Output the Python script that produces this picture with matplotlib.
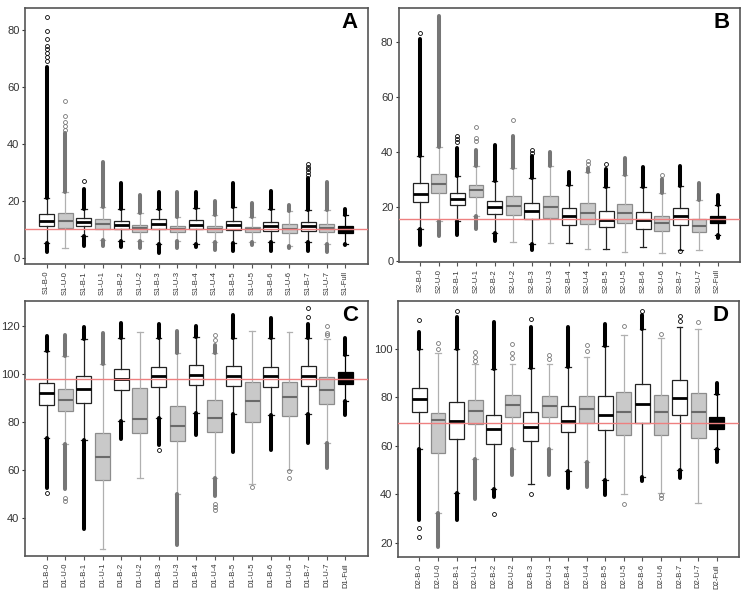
import matplotlib
matplotlib.use('Agg')
import matplotlib.pyplot as plt

plt.rcParams['font.family'] = ['Liberation Sans', 'DejaVu Sans']

# ─────────────────────────────────────────────
# DATA  (q1, median, q3, whisker low, whisker high)
# dense = (bottom of dense low fliers, top of dense high fliers)
# ─────────────────────────────────────────────
s1_labels = ['S1-B-0', 'S1-U-0', 'S1-B-1', 'S1-U-1', 'S1-B-2', 'S1-U-2', 'S1-B-3', 'S1-U-3',
             'S1-B-4', 'S1-U-4', 'S1-B-5', 'S1-U-5', 'S1-B-6', 'S1-U-6', 'S1-B-7', 'S1-U-7', 'S1-Full']
s1_box = [(11.1, 13.0, 15.2, 5.3, 21.1), (10.4, 13.0, 15.8, 3.3, 23.2), (11.2, 12.5, 13.8, 7.8, 17.0),
          (10.1, 11.9, 13.5, 6.2, 17.9), (10.0, 11.5, 12.9, 6.0, 17.0), (9.1, 10.3, 11.5, 6.0, 15.6),
          (10.0, 11.8, 13.5, 5.0, 17.0), (8.9, 10.0, 11.1, 6.0, 14.4), (10.0, 11.6, 13.2, 4.7, 17.5),
          (8.9, 10.1, 11.2, 5.4, 15.0), (9.7, 11.5, 13.0, 5.3, 17.7), (8.9, 10.0, 10.9, 5.4, 14.2),
          (9.5, 11.1, 12.4, 5.4, 17.0), (8.6, 10.2, 11.7, 4.1, 16.5), (9.5, 11.0, 12.4, 5.4, 16.7),
          (8.9, 10.3, 11.7, 5.0, 16.7), (8.8, 10.1, 11.2, 4.8, 15.0)]
s1_dense = [(1.9, 67.0), (None, 43.7), (4.2, 24.0), (4.1, 33.7), (3.6, 26.4), (3.3, 22.0), (1.5, 23.0),
            (3.3, 23.0), (3.8, 23.2), (2.7, 19.9), (2.5, 26.4), (4.5, 19.1), (2.5, 23.5), (3.3, 18.7),
            (2.5, 27.9), (2.1, 26.5), (4.5, 17.1)]
s1_sparse = [[69, 70.5, 72, 73.5, 74.5, 76.7, 79.6, 84.4], [44.9, 46.3, 47.8, 49.8, 55.2], [26.9], [], [], [],
             [], [], [], [], [], [], [], [], [29, 30, 31, 32, 33.1], [], []]
s1_ref = 10.2

s2_labels = [l.replace('S1', 'S2') for l in s1_labels]
s2_box = [(21.6, 24.7, 28.6, 11.8, 38.3), (24.9, 28.3, 31.9, 14.8, 41.9), (20.5, 22.7, 24.9, 14.8, 31.0),
          (23.5, 25.9, 28.0, 16.4, 34.9), (17.4, 19.8, 22.2, 10.3, 29.2), (17.0, 20.1, 23.9, 7.1, 34.0),
          (15.4, 18.5, 21.5, 6.4, 30.4), (16.0, 19.8, 23.7, 6.9, 34.9), (13.4, 16.4, 19.5, 6.7, 28.0),
          (13.6, 17.6, 21.5, 4.6, 32.5), (12.4, 15.2, 18.5, 4.6, 27.1), (14.0, 17.6, 21.0, 3.6, 31.6),
          (12.0, 15.1, 18.1, 5.3, 27.0), (11.1, 13.9, 16.7, 3.0, 24.9), (13.3, 16.5, 19.5, 4.3, 27.5),
          (10.7, 13.0, 15.4, 4.0, 22.5), (13.9, 15.2, 16.7, 9.7, 20.7)]
s2_dense = [(6.1, 81.1), (9.1, 89.4), (9.7, 41.5), (11.8, 40.7), (7.3, 42.3), (None, 45.6), (4.3, 38.5),
            (None, 40.1), (None, 32.6), (None, 34.0), (None, 33.7), (None, 37.7), (None, 34.3),
            (None, 30.0), (None, 34.9), (None, 28.6), (8.5, 24.1)]
s2_sparse = [[83.3], [], [43.5, 44.5, 45.6], [43.8, 45.2, 49.2], [], [51.7], [39.5, 40.5], [], [],
             [35.5, 36.5], [35.5], [], [], [31.6], [3.8], [], []]
s2_ref = 15.3

d1_labels = [l.replace('S1', 'D1') for l in s1_labels]
d1_box = [(87.2, 92.0, 96.3, 73.5, 109.7), (84.4, 89.2, 93.5, 71.0, 107.3), (87.9, 93.8, 98.9, 72.3, 114.6),
          (55.8, 65.4, 75.2, 27.3, 104.1), (93.2, 97.9, 102.0, 80.4, 114.9), (75.2, 81.3, 93.9, 56.5, 117.5),
          (94.5, 98.9, 103.0, 81.8, 114.9), (72.0, 78.3, 86.5, 50.0, 108.7), (95.5, 99.6, 103.5, 83.9, 115.2),
          (75.9, 81.5, 89.3, 56.5, 108.6), (94.9, 99.2, 103.1, 83.2, 114.9), (79.9, 88.6, 96.8, 54.1, 117.7),
          (94.6, 98.9, 102.8, 82.7, 114.9), (82.3, 90.4, 96.8, 60.1, 117.2), (94.9, 99.2, 103.1, 83.4, 114.9),
          (87.5, 93.4, 98.5, 71.3, 114.6), (95.6, 98.2, 100.7, 88.5, 107.9)]
d1_dense = [(52.7, 115.6), (52.0, 116.1), (35.4, 119.3), (None, 117.0), (72.8, 121.0), (None, None),
            (70.3, 120.7), (28.6, 117.9), (74.5, 120.0), (49.2, 112.0), (67.5, 124.5), (None, None),
            (68.5, 123.1), (None, None), (71.3, 120.6), (60.7, None), (83.0, 114.9)]
d1_sparse = [[50.3], [47.0, 48.5], [], [], [], [], [68.2], [], [], [43.5, 44.5, 46.0, 114.0, 116.1], [], [53.0],
             [], [56.5, 59.7], [123.5, 127.3], [116.1, 116.8, 120.0], []]
d1_ref = 98.0

d2_labels = [l.replace('S1', 'D2') for l in s1_labels]
d2_box = [(73.7, 79.1, 83.8, 58.5, 99.6), (57.1, 70.5, 73.3, 32.5, 98.0), (62.7, 70.2, 77.8, 40.7, 99.6),
          (69.1, 74.3, 79.0, 54.5, 93.8), (60.5, 66.7, 72.8, 42.0, 91.5), (71.9, 76.7, 80.8, 58.5, 93.6),
          (62.0, 67.8, 73.9, 44.1, 91.8), (71.7, 76.3, 80.5, 58.5, 93.6), (65.7, 70.2, 76.4, 49.7, 92.4),
          (69.4, 75.0, 80.4, 53.4, 96.6), (66.5, 72.6, 80.5, 45.8, 101.0), (64.6, 73.9, 81.9, 40.3, 105.5),
          (69.5, 77.0, 85.2, 47.2, 108.2), (64.6, 73.7, 80.8, 40.7, 104.5), (72.6, 79.8, 87.2, 49.9, 108.9),
          (63.0, 73.7, 81.5, 36.6, 108.0), (66.9, 69.4, 71.9, 58.6, 81.2)]
d2_dense = [(29.4, 106.9), (18.4, None), (29.4, 112.8), (37.9, None), (38.7, 111.0), (47.9, None),
            (None, 108.9), (47.9, None), (42.4, 108.9), (43.1, None), (39.9, 110.0), (None, None),
            (45.5, 113.7), (None, None), (46.8, None), (None, None), (53.2, 85.6)]
d2_sparse = [[26.3, 22.5, 111.9], [100.0, 102.3], [115.5], [95.0, 96.5, 98.6], [32.1], [95.9, 98.0, 102.0],
             [112.3, 40.1], [95.5, 97.3], [], [99.0, 101.4], [], [109.2, 35.9], [115.5],
             [105.9, 39.6, 38.3], [111.4, 113.4], [111.0], []]
d2_ref = 69.5

# ─────────────────────────────────────────────
# STYLES
# ─────────────────────────────────────────────
STY = {
    'B':    dict(face='#FFFFFF', edge='#222222', med='#000000', whisk='#222222', flier='#000000', mlw=2.0),
    'U':    dict(face='#C9C9C9', edge='#8C8C8C', med='#6A6A6A', whisk='#B0B0B0', flier='#767676', mlw=1.5),
    'Full': dict(face='#000000', edge='#000000', med='#000000', whisk='#000000', flier='#000000', mlw=1.5),
}


def kind(label):
    if label.endswith('Full'):
        return 'Full'
    return 'B' if '-B-' in label else 'U'


def draw_panel(ax, labels, box, dense, sparse, ref, ylim, yticks, letter):
    pos = list(range(1, len(labels) + 1))
    for k in ['B', 'U', 'Full']:
        st = STY[k]
        idx = [i for i, l in enumerate(labels) if kind(l) == k]
        stats = []
        for i in idx:
            q1, med, q3, lo, hi = box[i]
            stats.append(dict(q1=q1, med=med, q3=q3, whislo=lo, whishi=hi, fliers=sparse[i]))
        ax.bxp(stats, positions=[pos[i] for i in idx], widths=0.8, capwidths=0.3,
               patch_artist=True, showfliers=True,
               boxprops=dict(facecolor=st['face'], edgecolor=st['edge'], linewidth=0.9),
               medianprops=dict(color=st['med'], linewidth=st['mlw']),
               whiskerprops=dict(color=st['whisk'], linewidth=0.9),
               capprops=dict(color=st['whisk'], linewidth=0.9),
               flierprops=dict(marker='o', markersize=2.8, markerfacecolor='none',
                               markeredgecolor=st['flier'], markeredgewidth=0.6))
        # dense flier columns
        for i in idx:
            lo_end, hi_end = dense[i]
            q1, med, q3, lo, hi = box[i]
            if hi_end is not None:
                ax.vlines(pos[i], hi, hi_end, color=st['flier'], linewidth=2.9, capstyle='round', zorder=3)
            if lo_end is not None:
                ax.vlines(pos[i], lo_end, lo, color=st['flier'], linewidth=2.9, capstyle='round', zorder=3)

    ax.axhline(ref, color='#EE8080', linewidth=1.0, zorder=6)
    ax.set_xlim(-0.15, len(labels) + 1.2)
    ax.set_ylim(*ylim)
    ax.set_yticks(yticks)
    ax.set_xticks(pos)
    ax.set_xticklabels(labels, rotation=90, fontsize=5.5, color='#333333')
    ax.tick_params(axis='y', labelsize=8, colors='#333333', length=2.5, width=0.8, pad=1.5)
    ax.tick_params(axis='x', length=3, width=0.8, colors='#555555', labelcolor='#333333', pad=2)
    for sp in ax.spines.values():
        sp.set_edgecolor('#555555')
        sp.set_linewidth(1.2)
    ax.text(0.947, 0.943, letter, transform=ax.transAxes, ha='center', va='center',
            fontsize=16, fontweight='bold', color='#000000')


fig = plt.figure(figsize=(7.47, 5.91), dpi=100, facecolor='white')
axA = fig.add_axes([0.0335, 0.5533, 0.459, 0.433])
axB = fig.add_axes([0.534, 0.5567, 0.4565, 0.430])
axC = fig.add_axes([0.0335, 0.0592, 0.459, 0.4315])
axD = fig.add_axes([0.5328, 0.0575, 0.4565, 0.433])

draw_panel(axA, s1_labels, s1_box, s1_dense, s1_sparse, s1_ref, (-2.2, 87.7), [0, 20, 40, 60, 80], 'A')
draw_panel(axB, s2_labels, s2_box, s2_dense, s2_sparse, s2_ref, (-0.2, 92.5), [0, 20, 40, 60, 80], 'B')
draw_panel(axC, d1_labels, d1_box, d1_dense, d1_sparse, d1_ref, (24.2, 130.3), [40, 60, 80, 100, 120], 'C')
draw_panel(axD, d2_labels, d2_box, d2_dense, d2_sparse, d2_ref, (14.2, 119.5), [20, 40, 60, 80, 100], 'D')

fig.savefig('out.png', dpi=100, facecolor='white')
